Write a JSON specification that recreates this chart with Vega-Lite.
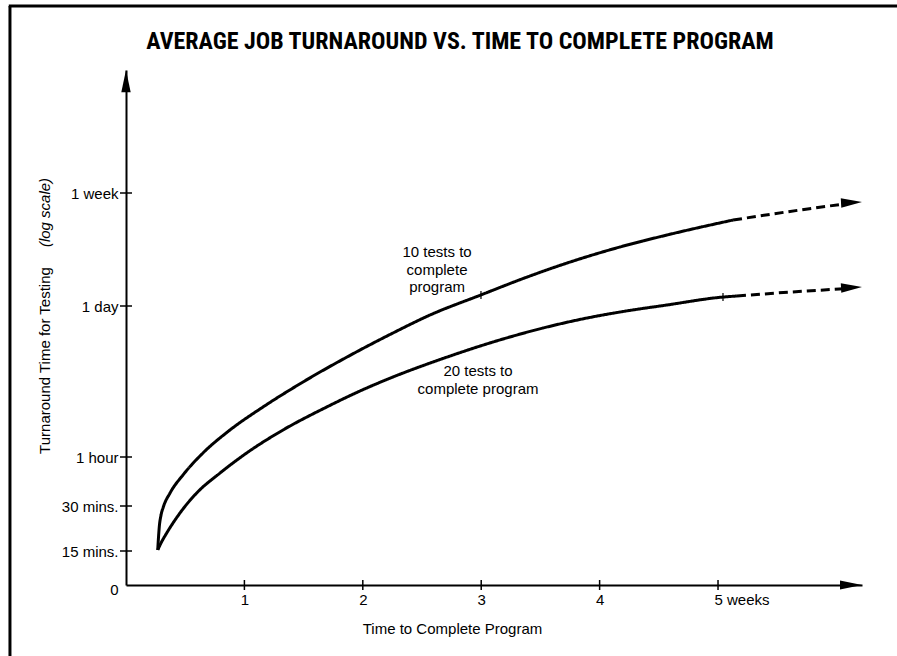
{
  "$schema": "https://vega.github.io/schema/vega-lite/v6.json",
  "width": 736,
  "height": 515,
  "autosize": "none",
  "padding": {"left": 126, "top": 70, "right": 35, "bottom": 71},
  "background": "white",
  "config": {"view": {"stroke": null}},
  "title": {
    "text": "AVERAGE JOB TURNAROUND VS. TIME TO COMPLETE PROGRAM",
    "anchor": "middle",
    "frame": "group",
    "font": "Roboto Condensed, Open Sans Condensed, DejaVu Sans Condensed, sans-serif",
    "fontSize": 24,
    "fontWeight": "bold",
    "color": "black",
    "baseline": "alphabetic",
    "offset": -69,
    "dx": -34
  },
  "datasets": {
    "curves": [
      {"series": "10 tests", "segment": "solid", "w": 0.268, "h": 0.254},
      {"series": "10 tests", "segment": "solid", "w": 0.273, "h": 0.296},
      {"series": "10 tests", "segment": "solid", "w": 0.281, "h": 0.362},
      {"series": "10 tests", "segment": "solid", "w": 0.296, "h": 0.435},
      {"series": "10 tests", "segment": "solid", "w": 0.315, "h": 0.492},
      {"series": "10 tests", "segment": "solid", "w": 0.372, "h": 0.601},
      {"series": "10 tests", "segment": "solid", "w": 0.484, "h": 0.78},
      {"series": "10 tests", "segment": "solid", "w": 0.65, "h": 1.088},
      {"series": "10 tests", "segment": "solid", "w": 0.878, "h": 1.765},
      {"series": "10 tests", "segment": "solid", "w": 1.157, "h": 2.864},
      {"series": "10 tests", "segment": "solid", "w": 1.495, "h": 4.848},
      {"series": "10 tests", "segment": "solid", "w": 1.867, "h": 8.205},
      {"series": "10 tests", "segment": "solid", "w": 2.255, "h": 13.6},
      {"series": "10 tests", "segment": "solid", "w": 2.568, "h": 19.86},
      {"series": "10 tests", "segment": "solid", "w": 2.996, "h": 29.0},
      {"series": "10 tests", "segment": "solid", "w": 3.387, "h": 39.5},
      {"series": "10 tests", "segment": "solid", "w": 3.725, "h": 50.3},
      {"series": "10 tests", "segment": "solid", "w": 4.172, "h": 66.3},
      {"series": "10 tests", "segment": "solid", "w": 4.569, "h": 81.5},
      {"series": "10 tests", "segment": "solid", "w": 5.127, "h": 105.5},
      {"series": "10 tests", "segment": "dashed", "w": 5.127, "h": 105.5},
      {"series": "10 tests", "segment": "dashed", "w": 5.693, "h": 125.4},
      {"series": "10 tests", "segment": "dashed", "w": 6.098, "h": 140.2},
      {"series": "20 tests", "segment": "solid", "w": 0.268, "h": 0.254},
      {"series": "20 tests", "segment": "solid", "w": 0.296, "h": 0.283},
      {"series": "20 tests", "segment": "solid", "w": 0.344, "h": 0.33},
      {"series": "20 tests", "segment": "solid", "w": 0.456, "h": 0.449},
      {"series": "20 tests", "segment": "solid", "w": 0.597, "h": 0.601},
      {"series": "20 tests", "segment": "solid", "w": 0.794, "h": 0.797},
      {"series": "20 tests", "segment": "solid", "w": 1.019, "h": 1.088},
      {"series": "20 tests", "segment": "solid", "w": 1.326, "h": 1.765},
      {"series": "20 tests", "segment": "solid", "w": 1.695, "h": 2.864},
      {"series": "20 tests", "segment": "solid", "w": 1.976, "h": 4.011},
      {"series": "20 tests", "segment": "solid", "w": 2.255, "h": 5.386},
      {"series": "20 tests", "segment": "solid", "w": 2.677, "h": 7.949},
      {"series": "20 tests", "segment": "solid", "w": 3.1, "h": 11.25},
      {"series": "20 tests", "segment": "solid", "w": 3.522, "h": 15.1},
      {"series": "20 tests", "segment": "solid", "w": 3.894, "h": 18.64},
      {"series": "20 tests", "segment": "solid", "w": 4.172, "h": 21.15},
      {"series": "20 tests", "segment": "solid", "w": 4.569, "h": 24.42},
      {"series": "20 tests", "segment": "solid", "w": 5.042, "h": 28.0},
      {"series": "20 tests", "segment": "solid", "w": 5.16, "h": 28.5},
      {"series": "20 tests", "segment": "dashed", "w": 5.16, "h": 28.5},
      {"series": "20 tests", "segment": "dashed", "w": 5.608, "h": 30.5},
      {"series": "20 tests", "segment": "dashed", "w": 6.098, "h": 32.4}
    ],
    "yticks": [
      {"w": 0, "h": 0.25}, {"w": 0, "h": 0.5}, {"w": 0, "h": 1}, {"w": 0, "h": 24}, {"w": 0, "h": 168}
    ],
    "xticks": [
      {"w": 1, "h": 0.125}, {"w": 2, "h": 0.125}, {"w": 3, "h": 0.125}, {"w": 4, "h": 0.125}, {"w": 5, "h": 0.125}
    ],
    "curveticks": [
      {"w": 2.998, "h": 29.0}, {"w": 5.042, "h": 28.0}
    ],
    "arrows": [
      {"dir": "up", "w": 0, "h": 1400},
      {"dir": "right", "w": 6.216, "h": 0.125},
      {"dir": "curve", "w": 6.216, "h": 143.9},
      {"dir": "curve", "w": 6.216, "h": 33.3}
    ],
    "labels": [
      {"label": "10 tests to\ncomplete\nprogram", "w": 2.627, "h": 60.8},
      {"label": "20 tests to\ncomplete program", "w": 2.973, "h": 6.11}
    ],
    "frame": [
      {"edge": "left", "w": -0.98, "w2": -0.98, "h": 4220, "h2": 0.0294},
      {"edge": "top", "w": -0.99, "w2": 6.7, "h": 4220, "h2": 4220}
    ]
  },
  "resolve": {"axis": {"x": "independent", "y": "independent"}},
  "layer": [
    {
      "data": {"name": "curves"},
      "mark": {"type": "line", "color": "black", "strokeWidth": 3, "interpolate": "monotone"},
      "encoding": {
        "x": {
          "field": "w", "type": "quantitative",
          "scale": {"domain": [0, 6.216], "nice": false, "zero": false},
          "axis": {
            "values": [1, 2, 3, 4, 5],
            "labelExpr": "datum.value == 5 ? '5 weeks' : datum.label",
            "title": "Time to Complete Program",
            "ticks": false,
            "grid": false,
            "domainWidth": 2,
            "domainColor": "black",
            "labelFont": "Liberation Sans",
            "labelFontSize": 15,
            "labelColor": "black",
            "labelPadding": 7,
            "labelFlush": false,
            "labelOverlap": false,
            "labelAlign": {"condition": {"test": "datum.value == 5", "value": "left"}, "value": "center"},
            "labelOffset": {"condition": {"test": "datum.value == 5", "value": -4}, "value": 0},
            "titleFont": "Liberation Sans",
            "titleFontSize": 15,
            "titleFontWeight": "normal",
            "titleColor": "black",
            "titleX": 326,
            "titleY": 48,
            "titleAlign": "center",
            "titleBaseline": "alphabetic"
          }
        },
        "y": {
          "field": "h", "type": "quantitative",
          "scale": {"type": "log", "domain": [0.125, 0.25, 0.5, 1, 24, 168, 1400], "range": [515, 481, 436, 387, 236, 123, 0], "nice": false, "zero": false},
          "axis": {
            "values": [0.125, 0.25, 0.5, 1, 24, 168],
            "labelExpr": "datum.value == 0.125 ? '0' : datum.value == 0.25 ? '15 mins.' : datum.value == 0.5 ? '30 mins.' : datum.value == 1 ? '1 hour' : datum.value == 24 ? '1 day' : '1 week'",
            "ticks": false,
            "grid": false,
            "domainWidth": 2,
            "domainColor": "black",
            "labelFont": "Liberation Sans",
            "labelFontSize": 15,
            "labelColor": "black",
            "labelPadding": 8,
            "labelFlush": false,
            "labelOverlap": false,
            "labelOffset": {"condition": {"test": "datum.value == 0.125", "value": 4}, "value": 0},
            "title": "Turnaround Time for Testing",
            "titleFont": "Liberation Sans",
            "titleFontSize": 15,
            "titleFontWeight": "normal",
            "titleColor": "black",
            "titleAngle": 270,
            "titleX": -82,
            "titleY": 290,
            "titleAlign": "center",
            "titleBaseline": "middle"
          }
        },
        "detail": {"field": "series"},
        "strokeDash": {
          "field": "segment", "type": "nominal",
          "scale": {"domain": ["solid", "dashed"], "range": [[1, 0], [9, 5]]},
          "legend": null
        }
      }
    },
    {
      "data": {"name": "yticks"},
      "mark": {"type": "tick", "orient": "horizontal", "size": 12, "thickness": 1.5, "color": "black", "opacity": 1},
      "encoding": {
        "x": {"field": "w", "type": "quantitative", "scale": {"domain": [0, 6.216], "nice": false, "zero": false}, "axis": null},
        "y": {
          "field": "h", "type": "quantitative",
          "scale": {"type": "log", "domain": [0.125, 0.25, 0.5, 1, 24, 168, 1400], "range": [515, 481, 436, 387, 236, 123, 0], "nice": false, "zero": false},
          "axis": {
            "orient": "left",
            "labels": false,
            "ticks": false,
            "domain": false,
            "grid": false,
            "title": "(log scale)",
            "titleFont": "Liberation Sans",
            "titleFontSize": 15,
            "titleFontWeight": "normal",
            "titleFontStyle": "italic",
            "titleColor": "black",
            "titleAngle": 270,
            "titleX": -82,
            "titleY": 142,
            "titleAlign": "center",
            "titleBaseline": "middle"
          }
        }
      }
    },
    {
      "data": {"name": "xticks"},
      "mark": {"type": "tick", "orient": "vertical", "size": 10, "thickness": 1.5, "color": "black", "opacity": 1},
      "encoding": {
        "x": {"field": "w", "type": "quantitative", "scale": {"domain": [0, 6.216], "nice": false, "zero": false}, "axis": null},
        "y": {"field": "h", "type": "quantitative", "scale": {"type": "log", "domain": [0.125, 0.25, 0.5, 1, 24, 168, 1400], "range": [515, 481, 436, 387, 236, 123, 0], "nice": false, "zero": false}, "axis": null}
      }
    },
    {
      "data": {"name": "curveticks"},
      "mark": {"type": "tick", "orient": "vertical", "size": 8, "thickness": 1.2, "color": "black", "opacity": 1},
      "encoding": {
        "x": {"field": "w", "type": "quantitative", "scale": {"domain": [0, 6.216], "nice": false, "zero": false}, "axis": null},
        "y": {"field": "h", "type": "quantitative", "scale": {"type": "log", "domain": [0.125, 0.25, 0.5, 1, 24, 168, 1400], "range": [515, 481, 436, 387, 236, 123, 0], "nice": false, "zero": false}, "axis": null}
      }
    },
    {
      "data": {"name": "arrows"},
      "transform": [{"filter": "datum.dir == 'up'"}],
      "mark": {"type": "point", "shape": "M0,0L-2,-0.42L-2,0.42Z", "size": 500, "filled": true, "color": "black", "opacity": 1, "angle": -90},
      "encoding": {
        "x": {"field": "w", "type": "quantitative", "scale": {"domain": [0, 6.216], "nice": false, "zero": false}, "axis": null},
        "y": {"field": "h", "type": "quantitative", "scale": {"type": "log", "domain": [0.125, 0.25, 0.5, 1, 24, 168, 1400], "range": [515, 481, 436, 387, 236, 123, 0], "nice": false, "zero": false}, "axis": null}
      }
    },
    {
      "data": {"name": "arrows"},
      "transform": [{"filter": "datum.dir == 'right'"}],
      "mark": {"type": "point", "shape": "M0,0L-2,-0.42L-2,0.42Z", "size": 484, "filled": true, "color": "black", "opacity": 1, "angle": 0},
      "encoding": {
        "x": {"field": "w", "type": "quantitative", "scale": {"domain": [0, 6.216], "nice": false, "zero": false}, "axis": null},
        "y": {"field": "h", "type": "quantitative", "scale": {"type": "log", "domain": [0.125, 0.25, 0.5, 1, 24, 168, 1400], "range": [515, 481, 436, 387, 236, 123, 0], "nice": false, "zero": false}, "axis": null}
      }
    },
    {
      "data": {"name": "arrows"},
      "transform": [{"filter": "datum.dir == 'curve'"}],
      "mark": {"type": "point", "shape": "M0,0L-2,-0.45L-2,0.45Z", "size": 441, "filled": true, "color": "black", "opacity": 1, "angle": -3},
      "encoding": {
        "x": {"field": "w", "type": "quantitative", "scale": {"domain": [0, 6.216], "nice": false, "zero": false}, "axis": null},
        "y": {"field": "h", "type": "quantitative", "scale": {"type": "log", "domain": [0.125, 0.25, 0.5, 1, 24, 168, 1400], "range": [515, 481, 436, 387, 236, 123, 0], "nice": false, "zero": false}, "axis": null}
      }
    },
    {
      "data": {"name": "labels"},
      "mark": {"type": "text", "font": "Liberation Sans", "fontSize": 15, "color": "black", "align": "center", "baseline": "middle", "lineBreak": "\n", "lineHeight": 17.5},
      "encoding": {
        "x": {"field": "w", "type": "quantitative", "scale": {"domain": [0, 6.216], "nice": false, "zero": false}, "axis": null},
        "y": {"field": "h", "type": "quantitative", "scale": {"type": "log", "domain": [0.125, 0.25, 0.5, 1, 24, 168, 1400], "range": [515, 481, 436, 387, 236, 123, 0], "nice": false, "zero": false}, "axis": null},
        "text": {"field": "label"}
      }
    },
    {
      "data": {"name": "frame"},
      "mark": {"type": "rule", "color": "black", "strokeWidth": 3},
      "encoding": {
        "x": {"field": "w", "type": "quantitative", "scale": {"domain": [0, 6.216], "nice": false, "zero": false}, "axis": null},
        "x2": {"field": "w2"},
        "y": {"field": "h", "type": "quantitative", "scale": {"type": "log", "domain": [0.125, 0.25, 0.5, 1, 24, 168, 1400], "range": [515, 481, 436, 387, 236, 123, 0], "nice": false, "zero": false}, "axis": null},
        "y2": {"field": "h2"}
      }
    }
  ]
}
